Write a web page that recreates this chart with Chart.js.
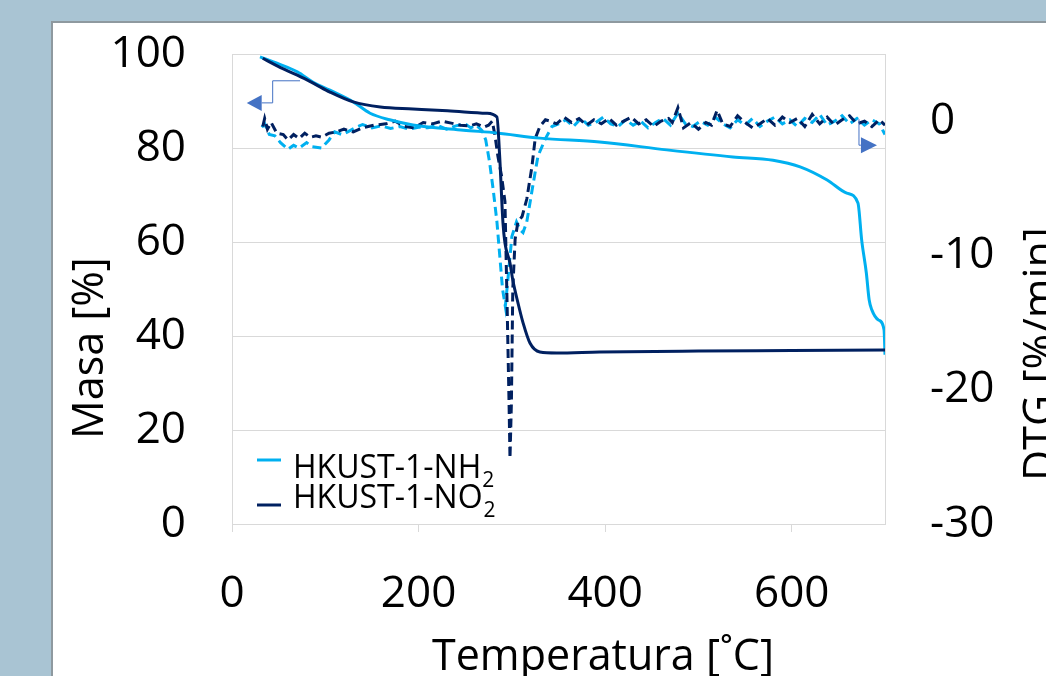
<!DOCTYPE html>
<html>
<head>
<meta charset="utf-8">
<script src="https://cdn.jsdelivr.net/npm/chart.js@4.4.1/dist/chart.umd.min.js"></script>
<style>
  html, body { margin: 0; padding: 0; width: 1046px; height: 676px; overflow: hidden; background: #a9c4d3; }
  #panel { position: absolute; left: 51px; top: 21px; width: 1010px; height: 700px; background: #fff;
           border-left: 2px solid #8e999f; border-top: 2px solid #8e999f; }
  #wrap { position: absolute; left: 0; top: 0; width: 1046px; height: 676px; }
</style>
</head>
<body>
<div id="panel"></div>
<div id="wrap"><canvas id="tga" width="1046" height="676"></canvas></div>
<script>
// TG curves (mass %, left axis)
const nh2TgTemp = [30, 50, 70, 87, 105, 130, 148, 169, 194, 248, 284, 330, 394, 466, 537, 580, 609, 638, 659, 671, 675, 680, 683, 686, 693, 699, 700];
const nh2TgMass = [99.4, 97.9, 96.2, 94.0, 92.3, 89.8, 87.4, 86.0, 84.9, 83.8, 83.2, 82.1, 81.3, 79.6, 78.1, 77.4, 76.0, 73.2, 70.4, 68.3, 60.4, 53.4, 47.7, 45.5, 43.4, 41.3, 36.0];

const no2TgTemp = [33, 50, 70, 88, 105, 130, 159, 194, 231, 273, 284, 287, 290.5, 292.6, 298, 301, 306.6, 312, 319.4, 330, 348, 394, 500, 600, 700];
const no2TgMass = [99.1, 97.3, 95.5, 93.7, 91.9, 89.8, 88.7, 88.3, 87.9, 87.4, 86.6, 78, 64, 59.8, 55.5, 51.9, 47, 42.8, 38.5, 36.6, 36.4, 36.6, 36.8, 36.9, 37.0];

// DTG curves (%/min, right axis)
const nh2DtgTemp = [32, 35, 40, 46, 52, 60, 66, 72, 80, 86,
  96, 104, 110, 118, 124, 132, 140, 150, 160, 170,
  180, 190, 200, 210, 220, 230, 240, 250, 256, 262,
  268, 272, 276, 280, 284, 287, 290, 293, 296, 300,
  305, 309, 312, 316, 323, 328, 336, 343, 350, 358,
  366, 374, 382, 390, 398, 406, 414, 422, 430, 438,
  446, 454, 462, 470, 478, 486, 494, 502, 510, 518,
  526, 534, 542, 550, 558, 566, 574, 582, 590, 598,
  606, 614, 622, 630, 638, 646, 654, 662, 670, 678,
  686, 694, 700];
const nh2Dtg = [-0.45, -0.2, -1.0, -1.1, -1.6, -2.1, -1.8, -2.0, -1.6, -1.9,
  -2.0, -1.4, -0.8, -1.0, -0.8, -0.5, -0.25, -0.5, -0.35, -0.55,
  -0.4, -0.6, -0.45, -0.5, -0.3, -0.6, -0.35, -0.2, -0.5, -0.3,
  -0.7, -1.4, -3.0, -5.1, -7.5, -10.0, -12.5, -13.8, -11.6, -8.6,
  -7.5, -8.1, -8.3, -7.5, -4.6, -2.6, -1.3, -0.4, -0.2, 0.1,
  -0.4, 0.2, -0.3, -0.1, 0.3, -0.2, -0.4, 0.1, -0.3, 0.0,
  -0.5, -0.1, 0.2, -0.3, 0.6, -0.2, -0.4, 0.0, -0.3, 0.3,
  -0.2, -0.5, 0.1, -0.3, 0.2, -0.4, 0.0, 0.3, -0.2, 0.1,
  -0.4, 0.2, -0.1, 0.5, -0.3, 0.0, 0.4, -0.2, 0.2, -0.3,
  0.1, -0.2, -1.0];

const no2DtgTemp = [33, 35, 38, 42, 48, 55, 60, 66, 72, 78,
  84, 90, 96, 104, 112, 120, 130, 140, 152, 165,
  175, 185, 195, 205, 215, 225, 235, 245, 255, 262,
  270, 275, 279, 282, 285, 289, 292.6, 295, 297, 298,
  299.5, 301, 303.5, 306.5, 311, 316, 321.5, 325, 330, 336,
  341, 348, 356, 364, 372, 380, 388, 396, 404, 412,
  420, 428, 436, 444, 452, 460, 468, 472, 478, 484,
  492, 500, 508, 514, 520, 526, 534, 542, 550, 558,
  566, 574, 582, 590, 598, 606, 614, 622, 630, 638,
  646, 654, 662, 670, 678, 686, 694, 700];
const no2Dtg = [-0.4, 0.2, -0.6, -0.1, -0.9, -1.0, -1.4, -1.0, -1.3, -0.9,
  -1.2, -1.1, -1.2, -0.9, -0.8, -0.6, -0.8, -0.5, -0.3, -0.2,
  0.0, -0.4, -0.5, -0.1, -0.2, 0.0, -0.15, -0.3, -0.35, -0.2,
  -0.45, -0.3, 0.0, -1.1, -2.6, -4.1, -6.0, -14, -21, -25.1,
  -21, -12.5, -8.8, -7.5, -7.1, -5.8, -3.4, -1.3, -0.4, 0.1,
  0.0, -0.2, 0.3, -0.1, 0.2, -0.3, 0.1, -0.2, 0.2, -0.3,
  0.0, 0.3, -0.2, 0.1, -0.4, 0.0, 0.2, -0.1, 1.0, -0.5,
  -0.1, -0.6, -0.1, -0.3, 0.8, -0.2, -0.4, 0.4, -0.1, -0.5,
  -0.2, 0.2, -0.3, 0.3, -0.1, 0.2, -0.4, 0.5, -0.2, 0.3,
  -0.3, 0.1, 0.4, -0.2, 0.0, -0.4, 0.1, -0.3];

const seriesNames = ['HKUST-1-NH', 'HKUST-1-NO'];   // subscript "2" added when drawn
const xTitle = 'Temperatura [˚C]';
const yTitle = 'Masa [%]';
const y2Title = 'DTG [%/min]';

// arrow markers: [x, y] in data units
const leftArrow = [[72.9, 94.3], [43.6, 94.3], [43.6, 89.6], [31.8, 89.6]];
const leftArrowTip = 15.8;
const rightArrow = [[672.1, 0.15], [672.1, -1.79], [674.2, -1.79]];
const rightArrowTip = 691.4;

const FONT = "'Open Sans', sans-serif";
const NH2_COLOR = '#00b0f0';
const NO2_COLOR = '#002060';
const GRID = '#d9d9d9';
const ARROW = '#4472c4';
const CLEAR = 'rgba(0,0,0,0)';

Chart.defaults.font.family = FONT;
Chart.defaults.color = '#000';

const toPoints = (xs, ys) => xs.map((t, i) => ({ x: t, y: ys[i] }));

const decor = {
  id: 'decor',
  afterDraw(chart) {
    const c = chart.ctx;
    const sx = chart.scales.x, sy = chart.scales.y, sy2 = chart.scales.y2;
    c.save();
    c.fillStyle = '#000';
    c.font = '43px ' + FONT;
    c.textAlign = 'center';
    c.textBaseline = 'alphabetic';

    // axis titles
    c.fillText(xTitle, 603, 670);
    c.save();
    c.translate(103, 348);
    c.rotate(-Math.PI / 2);
    c.fillText(yTitle, 0, 0);
    c.restore();
    c.save();
    c.translate(1054, 354);
    c.rotate(-Math.PI / 2);
    c.fillText(y2Title, 0, 0);
    c.restore();

    // legend
    const legendColors = [NH2_COLOR, NO2_COLOR];
    const sampleY = [460, 505];
    const textY = [478, 508];
    c.textAlign = 'left';
    seriesNames.forEach((name, i) => {
      c.strokeStyle = legendColors[i];
      c.lineWidth = 3;
      c.beginPath();
      c.moveTo(257, sampleY[i]);
      c.lineTo(281, sampleY[i]);
      c.stroke();
      c.font = '32px ' + FONT;
      c.fillText(name, 293, textY[i]);
      const w = c.measureText(name).width;
      c.font = '21px ' + FONT;
      c.fillText('2', 293 + w + 1, textY[i] + 9);
    });

    // small arrows pointing to each axis
    c.strokeStyle = ARROW;
    c.fillStyle = ARROW;
    c.lineWidth = 1;
    c.beginPath();
    leftArrow.forEach((p, i) => {
      const px = sx.getPixelForValue(p[0]), py = sy.getPixelForValue(p[1]);
      i ? c.lineTo(px, py) : c.moveTo(px, py);
    });
    c.stroke();
    let bx = sx.getPixelForValue(leftArrow[3][0]), by = sy.getPixelForValue(leftArrow[3][1]);
    let tx = sx.getPixelForValue(leftArrowTip);
    c.beginPath();
    c.moveTo(tx, by);
    c.lineTo(bx, by - 8);
    c.lineTo(bx, by + 8);
    c.closePath();
    c.fill();

    c.beginPath();
    rightArrow.forEach((p, i) => {
      const px = sx.getPixelForValue(p[0]), py = sy2.getPixelForValue(p[1]);
      i ? c.lineTo(px, py) : c.moveTo(px, py);
    });
    c.stroke();
    bx = sx.getPixelForValue(rightArrow[2][0]);
    by = sy2.getPixelForValue(rightArrow[2][1]);
    tx = sx.getPixelForValue(rightArrowTip);
    c.beginPath();
    c.moveTo(tx, by);
    c.lineTo(bx, by - 8);
    c.lineTo(bx, by + 8);
    c.closePath();
    c.fill();

    c.restore();
  }
};

new Chart(document.getElementById('tga'), {
  type: 'scatter',
  data: {
    datasets: [
      { label: 'HKUST-1-NO2 TG', data: toPoints(no2TgTemp, no2TgMass), yAxisID: 'y',
        borderColor: NO2_COLOR, borderWidth: 3, showLine: true, pointRadius: 0,
        cubicInterpolationMode: 'monotone' },
      { label: 'HKUST-1-NH2 TG', data: toPoints(nh2TgTemp, nh2TgMass), yAxisID: 'y',
        borderColor: NH2_COLOR, borderWidth: 3, showLine: true, pointRadius: 0,
        cubicInterpolationMode: 'monotone' },
      { label: 'HKUST-1-NO2 DTG', data: toPoints(no2DtgTemp, no2Dtg), yAxisID: 'y2',
        borderColor: NO2_COLOR, borderWidth: 3, borderDash: [9, 5], showLine: true,
        pointRadius: 0, tension: 0 },
      { label: 'HKUST-1-NH2 DTG', data: toPoints(nh2DtgTemp, nh2Dtg), yAxisID: 'y2',
        borderColor: NH2_COLOR, borderWidth: 3, borderDash: [9, 5], showLine: true,
        pointRadius: 0, tension: 0 }
    ]
  },
  options: {
    responsive: false,
    animation: false,
    layout: { padding: { top: 54, left: 0, right: 0, bottom: 0 } },
    plugins: { legend: { display: false }, tooltip: { enabled: false } },
    scales: {
      x: {
        type: 'linear', min: 0, max: 700,
        ticks: { stepSize: 200, padding: 36, includeBounds: false, autoSkip: false, font: { size: 44 } },
        afterBuildTicks: s => { s.ticks = s.ticks.filter(t => t.value <= 600); },
        grid: { drawOnChartArea: false, drawTicks: true, tickLength: 8, color: GRID },
        border: { color: GRID },
        afterFit: s => { s.height = 152; }
      },
      y: {
        position: 'left', min: 0, max: 100,
        ticks: { stepSize: 20, padding: 0, font: { size: 44 } },
        grid: { color: GRID, drawTicks: true, tickLength: 46, tickColor: CLEAR },
        border: { color: GRID },
        afterFit: s => { s.width = 232; }
      },
      y2: {
        position: 'right', min: -30, max: 5,
        ticks: { stepSize: 10, padding: 0, includeBounds: false, font: { size: 44 } },
        afterBuildTicks: s => { s.ticks = s.ticks.filter(t => t.value <= 0); },
        grid: { drawOnChartArea: false, drawTicks: true, tickLength: 45, tickColor: CLEAR },
        border: { color: GRID },
        afterFit: s => { s.width = 161; }
      }
    }
  },
  plugins: [decor]
});
</script>
</body>
</html>
